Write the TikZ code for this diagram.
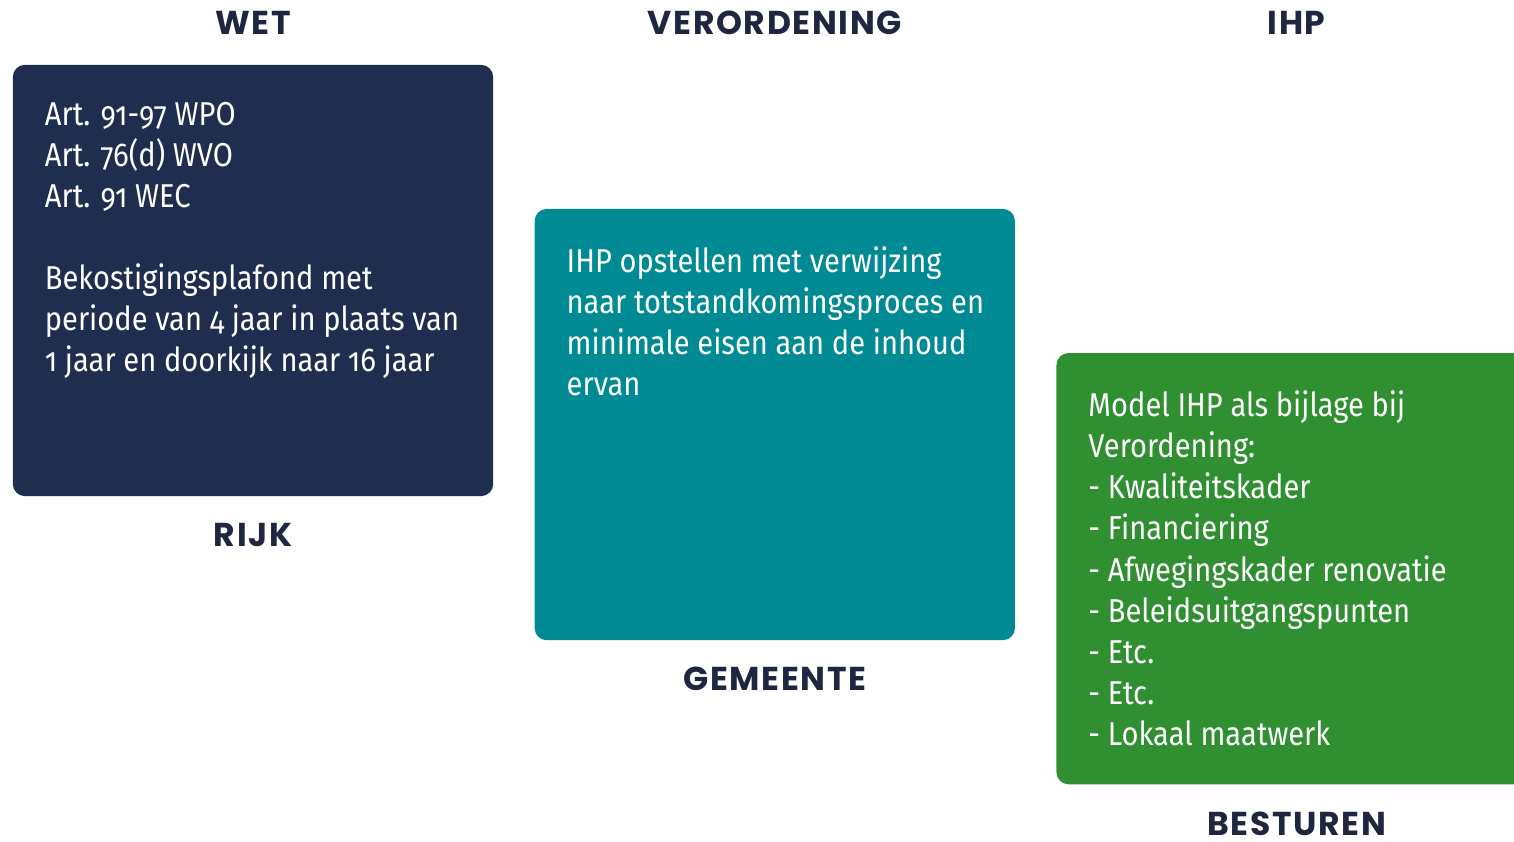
\documentclass[tikz,border=0pt]{standalone}
\usepackage{fontspec}
\setmainfont{Fira Sans}[Numbers=OldStyle, FakeStretch=0.88]
\newfontfamily\headfont{Poppins}[LetterSpace=5]
\usetikzlibrary{positioning}

\definecolor{rijkblue}{HTML}{1F2D4E}
\definecolor{gemteal}{HTML}{008A93}
\definecolor{bestgreen}{HTML}{2F8F31}
\definecolor{headink}{HTML}{1E2640}

\tikzset{
  box/.style={rounded corners=0.12cm, minimum width=4.8cm, minimum height=4.31cm, inner sep=0pt},
  boxtext/.style={anchor=north west, inner sep=0pt, align=left, text=white,
    font=\fontsize{9.4}{11.67}\selectfont},
  head/.style={anchor=base, inner sep=0pt, text=headink,
    font=\headfont\bfseries\fontsize{9.4}{10}\selectfont}
}

\begin{document}
\begin{tikzpicture}[x=0.01cm, y=-0.01cm]
			\path[use as bounding box, clip] (0,0) rectangle (1514,842);
			% boxes
			\node[box, fill=rijkblue] (rijk) at (253,280.5) {};
			\node[box, fill=gemteal] (gemeente) at ([xshift=5.215cm, yshift=-1.44cm]rijk.center) {};
			\node[box, fill=bestgreen] (besturen) at ([xshift=5.215cm, yshift=-1.44cm]gemeente.center) {};
			% headings
			\node[head] (wet) at ([yshift=0.30cm]rijk.north) {WET};
			\node[head] (verordening) at (wet.base -| gemeente.north) {VERORDENING};
			\node[head] (ihp) at (wet.base -| besturen.north) {IHP};
			\node[head] (rijklabel) at ([yshift=-0.50cm]rijk.south) {RIJK};
			\node[head] (gemeentelabel) at ([yshift=-0.50cm]gemeente.south) {GEMEENTE};
			\node[head] (besturenlabel) at ([yshift=-0.50cm]besturen.south) {BESTUREN};
			% texts
			\node[boxtext] (rijktext) at ([xshift=0.32cm, yshift=-0.37cm]rijk.north west)
				{Art. 91-97 WPO\\Art. 76(d) WVO\\Art. 91 WEC\\[11.67pt]
				 Bekostigingsplafond met\\periode van 4 jaar in plaats van\\1 jaar en doorkijk naar 16 jaar};
			\node[boxtext] (gemeentetext) at ([xshift=0.32cm, yshift=-0.38cm]gemeente.north west)
				{IHP opstellen met verwijzing\\naar totstandkomingsproces en\\minimale eisen aan de inhoud\\ervan};
			\node[boxtext] (besturentext) at ([xshift=0.32cm, yshift=-0.38cm]besturen.north west)
				{Model IHP als bijlage bij\\Verordening:\\- Kwaliteitskader\\- Financiering\\- Afwegingskader renovatie\\
				 - Beleidsuitgangspunten\\- Etc.\\- Etc.\\- Lokaal maatwerk};
		\end{tikzpicture}
\end{document}
